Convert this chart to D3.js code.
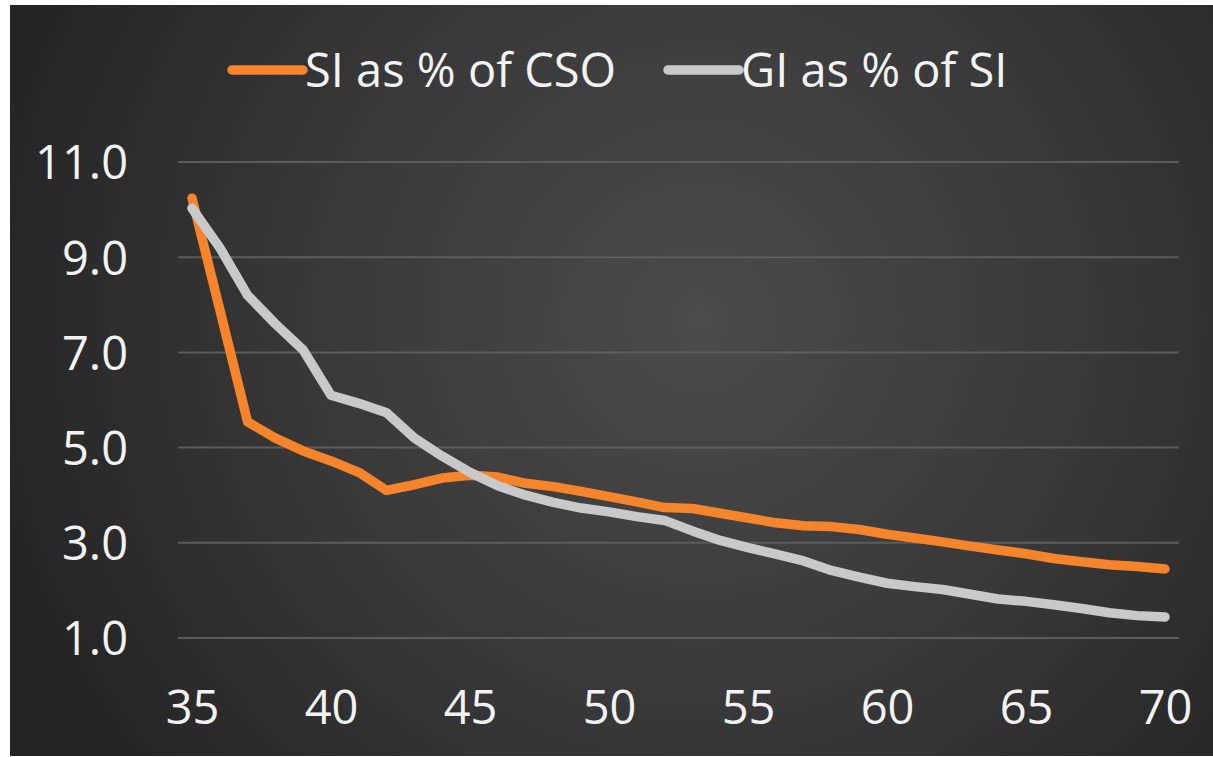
<!DOCTYPE html>
<html>
<head>
<meta charset="utf-8">
<script src="https://cdn.jsdelivr.net/npm/d3@7"></script>
<style>
  html, body { margin: 0; padding: 0; background: #ffffff; }
  svg { display: block; }
</style>
</head>
<body>
<svg id="chart"></svg>
<script>
const ages = d3.range(35, 71);
const xTicks = [35, 40, 45, 50, 55, 60, 65, 70];
const yTicks = [1, 3, 5, 7, 9, 11];

// SI as % of CSO
const siCso = [10.24, 7.9, 5.54, 5.2, 4.93, 4.72, 4.48, 4.1, 4.22, 4.36,
  4.42, 4.38, 4.25, 4.18, 4.08, 3.97, 3.86, 3.74, 3.72, 3.62,
  3.52, 3.42, 3.36, 3.34, 3.28, 3.18, 3.1, 3.02, 2.93, 2.85,
  2.77, 2.67, 2.6, 2.54, 2.5, 2.45];

// GI as % of SI
const giSi = [10.03, 9.2, 8.2, 7.6, 7.05, 6.1, 5.93, 5.73, 5.2, 4.82,
  4.48, 4.2, 4.0, 3.85, 3.73, 3.65, 3.55, 3.47, 3.25, 3.05,
  2.9, 2.76, 2.62, 2.42, 2.28, 2.15, 2.08, 2.02, 1.92, 1.82,
  1.77, 1.7, 1.62, 1.53, 1.47, 1.44];

const seriesNames = ["SI as % of CSO", "GI as % of SI"];
const colors = ["#f5842b", "#c9c9c9"];

const width = 1213, height = 757;
const fontSize = 47;
const svg = d3.select("#chart").attr("width", width).attr("height", height);

// background panel
const defs = svg.append("defs");
const grad = defs.append("radialGradient")
  .attr("id", "bg")
  .attr("gradientUnits", "userSpaceOnUse")
  .attr("cx", 700).attr("cy", 320).attr("r", 720);
grad.append("stop").attr("offset", "0%").attr("stop-color", "#4b4b4b");
grad.append("stop").attr("offset", "55%").attr("stop-color", "#383838");
grad.append("stop").attr("offset", "100%").attr("stop-color", "#252525");

svg.append("rect")
  .attr("x", 10).attr("y", 5)
  .attr("width", width - 10).attr("height", 751)
  .attr("fill", "url(#bg)");

// scales
const x = d3.scaleLinear().domain([35, 70]).range([192, 1165]);
const y = d3.scaleLinear().domain([1, 11]).range([638, 162]);
const half = (x(36) - x(35)) / 2;

// grid lines
svg.append("g")
  .selectAll("line")
  .data(yTicks)
  .join("line")
  .attr("x1", x(35) - half)
  .attr("x2", x(70) + half)
  .attr("y1", d => y(d))
  .attr("y2", d => y(d))
  .attr("stroke", "#5c5c5c")
  .attr("stroke-width", 2);

// y axis
const yAxis = d3.axisLeft(y).tickValues(yTicks).tickFormat(d3.format(".1f")).tickSize(0).tickPadding(0);
svg.append("g")
  .attr("transform", "translate(128,0)")
  .call(yAxis)
  .call(g => g.select(".domain").remove())
  .selectAll("text")
  .attr("fill", "#f2f2f2")
  .attr("font-family", "'Open Sans', sans-serif")
  .attr("font-size", fontSize)
  .attr("dy", "0.36em");

// x axis
const xAxis = d3.axisBottom(x).tickValues(xTicks).tickFormat(d3.format("d")).tickSize(0).tickPadding(0);
svg.append("g")
  .attr("transform", "translate(0,707)")
  .call(xAxis)
  .call(g => g.select(".domain").remove())
  .selectAll("text")
  .attr("fill", "#f2f2f2")
  .attr("font-family", "'Open Sans', sans-serif")
  .attr("font-size", fontSize)
  .attr("dy", "0.36em");

// lines
const line = d3.line()
  .x((d, i) => x(ages[i]))
  .y(d => y(d));

[siCso, giSi].forEach((vals, k) => {
  svg.append("path")
    .datum(vals)
    .attr("d", line)
    .attr("fill", "none")
    .attr("stroke", colors[k])
    .attr("stroke-width", 9.5)
    .attr("stroke-linecap", "round")
    .attr("stroke-linejoin", "round");
});

// legend
const legendX = [232, 668];
const legend = svg.append("g");
seriesNames.forEach((name, k) => {
  const g = legend.append("g").attr("transform", `translate(${legendX[k]},70)`);
  g.append("line")
    .attr("x1", 0).attr("x2", 71)
    .attr("y1", 0).attr("y2", 0)
    .attr("stroke", colors[k])
    .attr("stroke-width", 9.5)
    .attr("stroke-linecap", "round");
  g.append("text")
    .attr("x", 73)
    .attr("dy", "0.36em")
    .attr("fill", "#f2f2f2")
    .attr("font-family", "'Open Sans', sans-serif")
    .attr("font-size", fontSize)
    .text(name);
});
</script>
</body>
</html>
